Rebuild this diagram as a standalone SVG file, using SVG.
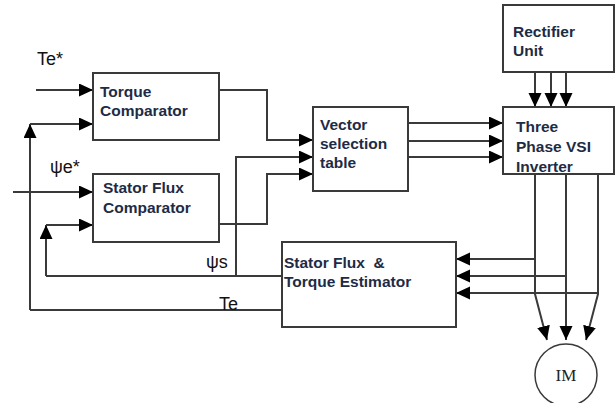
<svg xmlns="http://www.w3.org/2000/svg" width="616" height="403" viewBox="0 0 616 403">
<style>
.box{fill:#fff;stroke:#3a3a3a;stroke-width:2}
.ln{fill:none;stroke:#3a3a3a;stroke-width:2;marker-end:url(#ah)}
.pl{fill:none;stroke:#3a3a3a;stroke-width:2}
.lb{font-family:"Liberation Sans",Arial,sans-serif;font-weight:bold;font-size:15.5px;fill:#1e2b45;white-space:pre}
.sig{font-family:"Liberation Sans",Arial,sans-serif;font-size:18px;fill:#111}
.im{font-family:"Liberation Serif","Times New Roman",serif;font-size:17px;fill:#222}
</style>
<defs>
<marker id="ah" markerUnits="userSpaceOnUse" markerWidth="15" markerHeight="14" refX="14" refY="6.5" orient="auto">
<path d="M0,0 L14,6.5 L0,13 z" fill="#000"/>
</marker>
</defs>
<g id="connectors">
<path class="ln" d="M36,90 H93"/>
<path class="ln" d="M30,310 V124"/>
<path class="ln" d="M30,124 H93"/>
<path class="ln" d="M13,192 H93"/>
<path class="ln" d="M46,276 V225"/>
<path class="ln" d="M46,225 H93"/>
<path class="ln" d="M219,90 H267 V140 H313"/>
<path class="ln" d="M236,276 V157 H313"/>
<path class="ln" d="M219,224 H267 V174 H313"/>
<path class="pl" d="M46,276 H282"/>
<path class="pl" d="M30,310 H282"/>
<path class="ln" d="M408,123 H503"/>
<path class="ln" d="M408,141 H503"/>
<path class="ln" d="M408,157 H503"/>
<path class="ln" d="M535,72 V107"/>
<path class="ln" d="M551,72 V107"/>
<path class="ln" d="M566,72 V107"/>
<path class="ln" d="M535,259 H456"/>
<path class="ln" d="M566,276 H456"/>
<path class="ln" d="M598,293 H456"/>
<path class="ln" d="M535,174 V294 L547,340"/>
<path class="ln" d="M566,174 V340"/>
<path class="ln" d="M598,174 V294 L586,340"/>
</g>
<g id="torque-comparator">
<rect class="box" x="93" y="73" width="126" height="67"/>
<text class="lb" x="100" y="97">Torque</text>
<text class="lb" x="100" y="116">Comparator</text>
</g>
<g id="stator-flux-comparator">
<rect class="box" x="93" y="174" width="126" height="68"/>
<text class="lb" x="103" y="193">Stator Flux</text>
<text class="lb" x="103" y="213">Comparator</text>
</g>
<g id="vector-selection-table">
<rect class="box" x="313" y="107" width="95" height="84"/>
<text class="lb" x="320" y="130">Vector</text>
<text class="lb" x="320" y="149">selection</text>
<text class="lb" x="320" y="168">table</text>
</g>
<g id="rectifier-unit">
<rect class="box" x="503" y="5" width="111" height="67"/>
<text class="lb" x="513" y="37">Rectifier</text>
<text class="lb" x="513" y="56">Unit</text>
</g>
<g id="inverter">
<rect class="box" x="503" y="107" width="111" height="67"/>
<text class="lb" x="516" y="132">Three</text>
<text class="lb" x="516" y="152">Phase VSI</text>
<text class="lb" x="516" y="172">Inverter</text>
</g>
<g id="estimator">
<rect class="box" x="282" y="242" width="174" height="85"/>
<text class="lb" x="284" y="268">Stator Flux  &amp;</text>
<text class="lb" x="284" y="287">Torque Estimator</text>
</g>
<g id="motor">
<circle cx="566" cy="375" r="31" fill="#fff" stroke="#3a3a3a" stroke-width="1.5"/>
<text class="im" x="566" y="381" text-anchor="middle">IM</text>
</g>
<g id="labels">
<text class="sig" x="37" y="65">Te*</text>
<text class="sig" x="50" y="173">ψe*</text>
<text class="sig" x="206" y="268">ψs</text>
<text class="sig" x="219" y="310">Te</text>
</g>
</svg>
